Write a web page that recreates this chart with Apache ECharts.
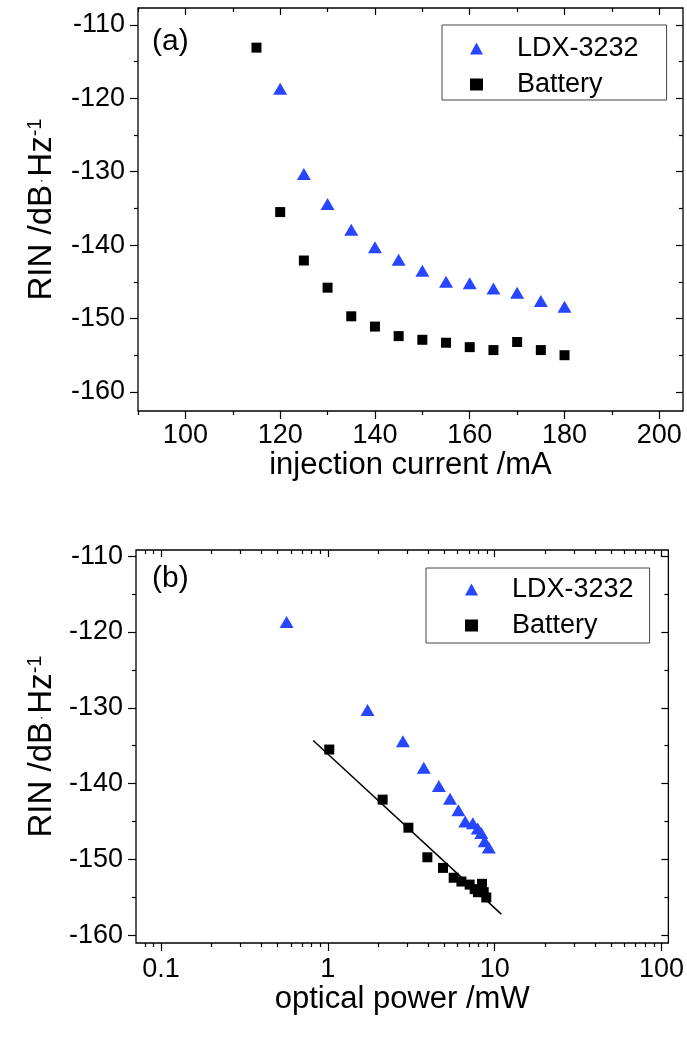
<!DOCTYPE html>
<html>
<head>
<meta charset="utf-8">
<script src="https://cdn.jsdelivr.net/npm/echarts@6/dist/echarts.min.js"></script>
<style>
  html, body { margin: 0; padding: 0; background: #fff; }
  #chart { width: 687px; height: 1038px; }
</style>
</head>
<body>
<div id="chart"></div>
<script>
// panel (a): RIN against injection current
var currentLdx = [120, 125, 130, 135, 140, 145, 150, 155, 160, 165, 170, 175, 180];
var rinLdx = [-118.7, -130.3, -134.4, -137.9, -140.3, -142.0, -143.5, -145.0, -145.2, -145.9, -146.5, -147.6, -148.4];
var currentBat = [115, 120, 125, 130, 135, 140, 145, 150, 155, 160, 165, 170, 175, 180];
var rinBat = [-113.1, -135.5, -142.1, -145.8, -149.7, -151.1, -152.4, -152.9, -153.3, -153.9, -154.3, -153.2, -154.3, -155.0];

// panel (b): RIN against optical power (no power value for the 115 mA point)
var powerLdx = [0.566, 1.73, 2.82, 3.76, 4.63, 5.40, 6.06, 6.66, 7.40, 7.92, 8.32, 8.71, 9.22];
var powerBat = [1.02, 2.13, 3.04, 3.95, 4.90, 5.68, 6.32, 7.08, 7.59, 7.94, 8.40, 8.60, 8.91];
var rinBatB = rinBat.slice(1);
var fitPower = [0.817, 10.96];
var fitRin = [-134.3, -157.2];

// ticks
var currentTicks = [100, 120, 140, 160, 180, 200];
var currentMinor = [90, 110, 130, 150, 170, 190];
var rinTicks = [-160, -150, -140, -130, -120, -110];
var rinMinor = [-155, -145, -135, -125, -115];
var powerTicks = [0.1, 1, 10, 100];
var powerMinor = [0.08, 0.09, 0.2, 0.3, 0.4, 0.5, 0.6, 0.7, 0.8, 0.9,
                  2, 3, 4, 5, 6, 7, 8, 9, 20, 30, 40, 50, 60, 70, 80, 90];

var FONT = 'Liberation Sans, Arial, sans-serif';
var BLUE = '#2647ff';

function pair(list1, list2) {
  return list1.map(function (v, i) { return [v, list2[i]]; });
}

// main axis with labels + outward major ticks, outward minor ticks,
// and mirrored inward ticks on the opposite side
function axes(dim, grid, type, min, max, major, minor, extra) {
  var sides = dim === 'x' ? ['bottom', 'top'] : ['left', 'right'];
  var base = { type: type, gridIndex: grid, min: min, max: max,
               axisLine: { show: false }, splitLine: { show: false } };
  if (type === 'log') base.logBase = 10;
  function mk(pos, vals, len, inside, labels) {
    var a = Object.assign({}, base, {
      position: pos,
      axisTick: { show: true, inside: inside, length: len, customValues: vals,
                  lineStyle: { color: '#000', width: 1.2 } },
      axisLabel: { show: false }
    });
    if (labels) {
      a.axisLabel = Object.assign({ show: true, customValues: vals, color: '#000',
                                    fontSize: 27, fontFamily: FONT }, extra.label);
      a.name = extra.name;
      a.nameLocation = 'middle';
      a.nameGap = extra.nameGap;
      a.nameTextStyle = { color: '#000', fontSize: extra.nameSize, fontFamily: FONT, rich: extra.rich };
    }
    return a;
  }
  return [
    mk(sides[0], major, 8, false, true),
    mk(sides[0], minor, 4, false, false),
    mk(sides[1], major, 7, true, false),
    mk(sides[1], minor, 4, true, false)
  ];
}

var yRich = {
  d: { fontSize: 13, fontFamily: FONT, color: '#000', padding: [0, 2, 0, 2] },
  s: { fontSize: 20, fontFamily: FONT, color: '#000', verticalAlign: 'top' }
};
var yName = 'RIN /dB{d|·}Hz{s|-1}';

var xAxes = []
  .concat(axes('x', 0, 'value', 90, 205, currentTicks, currentMinor,
    { name: 'injection current /mA', nameGap: 36, nameSize: 31, label: { margin: 11 } }))
  .concat(axes('x', 1, 'log', 0.0708, 110, powerTicks, powerMinor,
    { name: 'optical power /mW', nameGap: 39, nameSize: 31, label: { margin: 13 } }));
var yAxes = []
  .concat(axes('y', 0, 'value', -162.6, -107.7, rinTicks, rinMinor,
    { name: yName, nameGap: 80, nameSize: 33, rich: yRich, label: { margin: 13 } }))
  .concat(axes('y', 1, 'value', -161.0, -109.2, rinTicks, rinMinor,
    { name: yName, nameGap: 78, nameSize: 33, rich: yRich, label: { margin: 13 } }));

var legendBase = {
  orient: 'vertical', itemWidth: 13, itemHeight: 12, selectedMode: false,
  symbolKeepAspect: true,
  borderColor: '#444', borderWidth: 1, borderRadius: 0,
  textStyle: { color: '#000', fontSize: 27, fontFamily: FONT, padding: [0, 0, 0, 29] },
  data: ['LDX-3232', 'Battery']
};

var option = {
  animation: false,
  backgroundColor: '#fff',
  grid: [
    { left: 138, top: 8, width: 545, height: 403, show: true, borderColor: '#000', borderWidth: 1.3 },
    { left: 136, top: 550, width: 533, height: 393, show: true, borderColor: '#000', borderWidth: 1.3 }
  ],
  xAxis: xAxes,
  yAxis: yAxes,
  legend: [
    Object.assign({}, legendBase, { left: 442, top: 25, padding: [10, 28, 2, 28], itemGap: 9 }),
    Object.assign({}, legendBase, { left: 426, top: 568, padding: [8, 16, 4, 39], itemGap: 9 })
  ],
  graphic: [
    { type: 'text', left: 152, top: 27, style: { text: '(a)', fontSize: 30, fontFamily: FONT, fill: '#000' } },
    { type: 'text', left: 152, top: 564, style: { text: '(b)', fontSize: 30, fontFamily: FONT, fill: '#000' } }
  ],
  series: [
    { name: 'LDX-3232', type: 'scatter', xAxisIndex: 0, yAxisIndex: 0,
      symbol: 'triangle', symbolSize: [14, 12], itemStyle: { color: BLUE, opacity: 1 },
      data: pair(currentLdx, rinLdx) },
    { name: 'Battery', type: 'scatter', xAxisIndex: 0, yAxisIndex: 0,
      symbol: 'rect', symbolSize: 10, itemStyle: { color: '#000', opacity: 1 },
      data: pair(currentBat, rinBat) },
    { name: 'LDX-3232', type: 'scatter', xAxisIndex: 4, yAxisIndex: 4,
      symbol: 'triangle', symbolSize: [14, 12], itemStyle: { color: BLUE, opacity: 1 },
      data: pair(powerLdx, rinLdx) },
    { name: 'Battery', type: 'scatter', xAxisIndex: 4, yAxisIndex: 4,
      symbol: 'rect', symbolSize: 10, itemStyle: { color: '#000', opacity: 1 },
      data: pair(powerBat, rinBatB) },
    { name: 'fit', type: 'line', xAxisIndex: 4, yAxisIndex: 4,
      showSymbol: false, silent: true, z: 1,
      lineStyle: { color: '#000', width: 1.5 },
      data: pair(fitPower, fitRin) }
  ]
};

var chart = echarts.init(document.getElementById('chart'));
chart.setOption(option);
</script>
</body>
</html>
